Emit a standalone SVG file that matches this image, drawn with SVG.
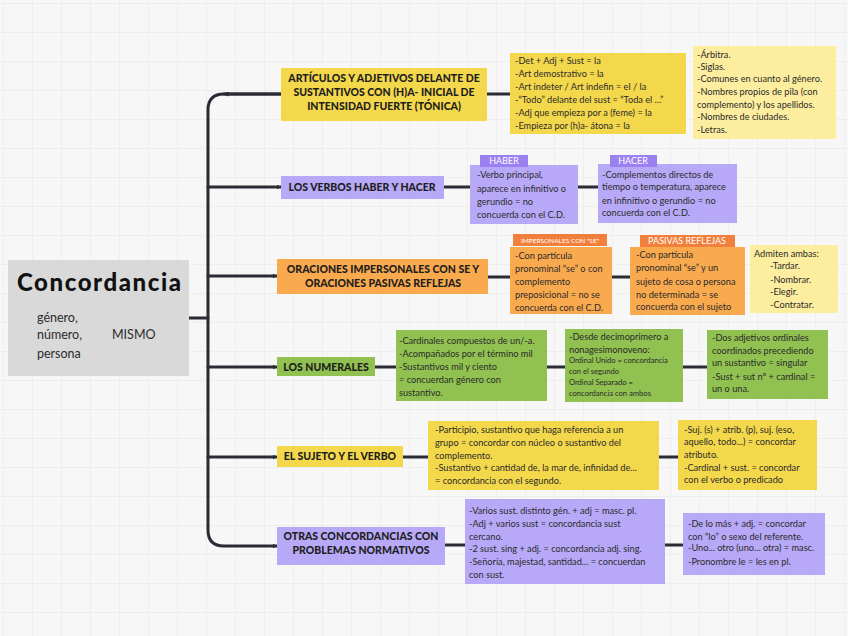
<svg xmlns="http://www.w3.org/2000/svg" width="848" height="636" viewBox="0 0 848 636">
<defs>
<pattern id="grid" width="29" height="29" patternUnits="userSpaceOnUse" x="3" y="3">
<path d="M29 0H0V29" fill="none" stroke="#e6e6e6" stroke-width="1"/>
</pattern>
<marker id="arr" viewBox="0 0 10 10" refX="9" refY="5" markerWidth="5" markerHeight="5" orient="auto" markerUnits="userSpaceOnUse">
<path d="M0 0L10 5L0 10z" fill="#2b2b35"/>
</marker>
<style>
text{font-family:Lato,"Noto Sans","Liberation Sans",sans-serif;fill:#2b2b2b}
.m{font-size:10.5px;font-weight:900;text-anchor:middle;fill:#1e1e1e}
.t{font-size:9.2px}
.s{font-size:7.6px}
.tag{font-size:9px;fill:#fff;text-anchor:middle}
.tags{font-size:6.5px;fill:#fff;text-anchor:middle}
.c{fill:none;stroke:#2b2b35;stroke-width:3;stroke-linecap:round}
.y{fill:#f4d84c}.ly{fill:#fdee9f}.p{fill:#b7a9f7}.pt{fill:#9b80f1}.o{fill:#f9aa4f}.ot{fill:#f27f3b}.g{fill:#91c150}
</style>
</defs>
<rect width="848" height="636" fill="#f7f7f7"/>
<rect width="848" height="636" fill="url(#grid)"/>

<g id="connectors">
<path class="c" d="M189 318H208"/>
<path class="c" d="M281 94H224Q208 94 208 110V530Q208 546 224 546H277" marker-end="url(#arr)"/>
<path class="c" d="M281 94H224" marker-end="url(#arr)"/>
<path class="c" d="M208 187H281" marker-end="url(#arr)"/>
<path class="c" d="M208 276H277" marker-end="url(#arr)"/>
<path class="c" d="M208 367H277" marker-end="url(#arr)"/>
<path class="c" d="M208 457H277" marker-end="url(#arr)"/>
<path class="c" d="M487 94H510"/>
<path class="c" d="M444 187H470"/>
<path class="c" d="M578 187H598"/>
<path class="c" d="M488 277H510"/>
<path class="c" d="M612 277H630"/>
<path class="c" d="M375 367H396"/>
<path class="c" d="M547 367H565"/>
<path class="c" d="M683 367H707"/>
<path class="c" d="M403 457H428"/>
<path class="c" d="M659 457H678"/>
<path class="c" d="M445 545H465"/>
<path class="c" d="M665 545H683"/>
</g>

<g id="root">
<rect x="8" y="260" width="181" height="116" fill="#d9d9d9"/>
<text x="17" y="291" style="font-size:24px;font-weight:900;fill:#111" textLength="164">Concordancia</text>
<text x="37" y="322" style="font-size:12.5px">género,</text>
<text x="37" y="339" style="font-size:12.5px">número,</text>
<text x="37" y="358" style="font-size:12.5px">persona</text>
<text x="112" y="339" style="font-size:12.5px">MISMO</text>
</g>

<g id="n1">
<rect class="y" x="281" y="68" width="206" height="53"/>
<text class="m" x="384" y="82">ARTÍCULOS Y ADJETIVOS DELANTE DE</text>
<text class="m" x="384" y="96">SUSTANTIVOS CON (H)A- INICIAL DE</text>
<text class="m" x="384" y="110">INTENSIDAD FUERTE (TÓNICA)</text>
</g>
<g id="n1a">
<rect class="y" x="510" y="53" width="176" height="81"/>
<text class="t" x="515" y="64">-Det + Adj + Sust = la</text>
<text class="t" x="515" y="77">-Art demostrativo = la</text>
<text class="t" x="515" y="90">-Art indeter / Art indefin = el / la</text>
<text class="t" x="515" y="103">-“Todo” delante del sust = “Toda el ...”</text>
<text class="t" x="515" y="116">-Adj que empieza por a (feme) = la</text>
<text class="t" x="515" y="129">-Empieza por (h)a- átona = la</text>
</g>
<g id="n1b">
<rect class="ly" x="693" y="46" width="143" height="93"/>
<text class="t" x="697" y="58">-Árbitra.</text>
<text class="t" x="697" y="70">-Siglas.</text>
<text class="t" x="697" y="82">-Comunes en cuanto al género.</text>
<text class="t" x="697" y="95">-Nombres propios de pila (con</text>
<text class="t" x="697" y="108">complemento) y los apellidos.</text>
<text class="t" x="697" y="120">-Nombres de ciudades.</text>
<text class="t" x="697" y="133">-Letras.</text>
</g>

<g id="n2">
<rect class="p" x="281" y="176" width="163" height="23"/>
<text class="m" x="362" y="191">LOS VERBOS HABER Y HACER</text>
</g>
<g id="n2a">
<rect class="p" x="470" y="165" width="108" height="59"/>
<rect class="pt" x="480" y="155" width="48" height="12"/>
<text class="tag" x="504" y="164">HABER</text>
<text class="t" x="477" y="178">-Verbo principal,</text>
<text class="t" x="477" y="192">aparece en infinitivo o</text>
<text class="t" x="477" y="205">gerundio = no</text>
<text class="t" x="477" y="218">concuerda con el C.D.</text>
</g>
<g id="n2b">
<rect class="p" x="598" y="164" width="139" height="59"/>
<rect class="pt" x="610" y="155" width="47" height="12"/>
<text class="tag" x="633" y="164">HACER</text>
<text class="t" x="602" y="178">-Complementos directos de</text>
<text class="t" x="602" y="190">tiempo o temperatura, aparece</text>
<text class="t" x="602" y="204">en infinitivo o gerundio = no</text>
<text class="t" x="602" y="216">concuerda con el C.D.</text>
</g>

<g id="n3">
<rect class="o" x="277" y="259" width="211" height="35"/>
<text class="m" x="383" y="273">ORACIONES IMPERSONALES CON SE Y</text>
<text class="m" x="383" y="287">ORACIONES PASIVAS REFLEJAS</text>
</g>
<g id="n3a">
<rect class="o" x="510" y="247" width="102" height="67"/>
<rect class="ot" x="513" y="234" width="94" height="12"/>
<text class="tags" x="560" y="243">IMPERSONALES CON "SE"</text>
<text class="t" x="515" y="259">-Con partícula</text>
<text class="t" x="515" y="272">pronominal “se” o con</text>
<text class="t" x="515" y="285">complemento</text>
<text class="t" x="515" y="298">preposicional = no se</text>
<text class="t" x="515" y="311">concuerda con el C.D.</text>
</g>
<g id="n3b">
<rect class="o" x="630" y="247" width="115" height="68"/>
<rect class="ot" x="640" y="235" width="95" height="12"/>
<text class="tag" x="687" y="244">PASIVAS REFLEJAS</text>
<text class="t" x="636" y="258">-Con partícula</text>
<text class="t" x="636" y="271">pronominal “se” y un</text>
<text class="t" x="636" y="285">sujeto de cosa o persona</text>
<text class="t" x="636" y="298">no determinada = se</text>
<text class="t" x="636" y="310">concuerda con el sujeto</text>
</g>
<g id="n3c">
<rect class="ly" x="750" y="245" width="88" height="68"/>
<text class="t" x="754" y="257">Admiten ambas:</text>
<text class="t" x="770" y="269">-Tardar.</text>
<text class="t" x="770" y="283">-Nombrar.</text>
<text class="t" x="770" y="295">-Elegir.</text>
<text class="t" x="770" y="308">-Contratar.</text>
</g>

<g id="n4">
<rect class="g" x="277" y="357" width="98" height="19"/>
<text class="m" x="326" y="371">LOS NUMERALES</text>
</g>
<g id="n4a">
<rect class="g" x="396" y="330" width="151" height="71"/>
<text class="t" x="399" y="344">-Cardinales compuestos de un/-a.</text>
<text class="t" x="399" y="357">-Acompañados por el término mil</text>
<text class="t" x="399" y="370">-Sustantivos mil y ciento</text>
<text class="t" x="399" y="383">= concuerdan género con</text>
<text class="t" x="399" y="396">sustantivo.</text>
</g>
<g id="n4b">
<rect class="g" x="565" y="329" width="118" height="73"/>
<text class="t" x="569" y="340">-Desde decimoprimero a</text>
<text class="t" x="569" y="353">nonagesimonoveno:</text>
<text class="s" x="569" y="363">Ordinal Unido = concordancia</text>
<text class="s" x="569" y="374">con el segundo</text>
<text class="s" x="569" y="385">Ordinal Separado =</text>
<text class="s" x="569" y="396">concordancia con ambos</text>
</g>
<g id="n4c">
<rect class="g" x="707" y="330" width="121" height="69"/>
<text class="t" x="712" y="341">-Dos adjetivos ordinales</text>
<text class="t" x="712" y="354">coordinados precediendo</text>
<text class="t" x="712" y="366">un sustantivo = singular</text>
<text class="t" x="712" y="380">-Sust + sut nº + cardinal =</text>
<text class="t" x="712" y="392">un o una.</text>
</g>

<g id="n5">
<rect class="y" x="277" y="446" width="126" height="21"/>
<text class="m" x="340" y="460">EL SUJETO Y EL VERBO</text>
</g>
<g id="n5a">
<rect class="y" x="428" y="421" width="231" height="69"/>
<text class="t" x="435" y="433">-Participio, sustantivo que haga referencia a un</text>
<text class="t" x="435" y="446">grupo = concordar con núcleo o sustantivo del</text>
<text class="t" x="435" y="459">complemento.</text>
<text class="t" x="435" y="471">-Sustantivo + cantidad de, la mar de, infinidad de...</text>
<text class="t" x="435" y="484">= concordancia con el segundo.</text>
</g>
<g id="n5b">
<rect class="y" x="678" y="420" width="139" height="70"/>
<text class="t" x="684" y="433">-Suj. (s) + atrib. (p), suj. (eso,</text>
<text class="t" x="684" y="445">aquello, todo...) = concordar</text>
<text class="t" x="684" y="458">atributo.</text>
<text class="t" x="684" y="471">-Cardinal + sust. = concordar</text>
<text class="t" x="684" y="483">con el verbo o predicado</text>
</g>

<g id="n6">
<rect class="p" x="277" y="527" width="168" height="38"/>
<text class="m" x="361" y="540">OTRAS CONCORDANCIAS CON</text>
<text class="m" x="361" y="554">PROBLEMAS NORMATIVOS</text>
</g>
<g id="n6a">
<rect class="p" x="465" y="499" width="200" height="85"/>
<text class="t" x="469" y="514">-Varios sust. distinto gén. + adj = masc. pl.</text>
<text class="t" x="469" y="527">-Adj + varios sust = concordancia sust</text>
<text class="t" x="469" y="540">cercano.</text>
<text class="t" x="469" y="552">-2 sust. sing + adj. = concordancia adj. sing.</text>
<text class="t" x="469" y="565">-Señoría, majestad, santidad... = concuerdan</text>
<text class="t" x="469" y="578">con sust.</text>
</g>
<g id="n6b">
<rect class="p" x="683" y="513" width="142" height="62"/>
<text class="t" x="688" y="527">-De lo más + adj. = concordar</text>
<text class="t" x="688" y="540">con “lo” o sexo del referente.</text>
<text class="t" x="688" y="551">-Uno... otro (uno... otra) = masc.</text>
<text class="t" x="688" y="565">-Pronombre le = les en pl.</text>
</g>
</svg>
